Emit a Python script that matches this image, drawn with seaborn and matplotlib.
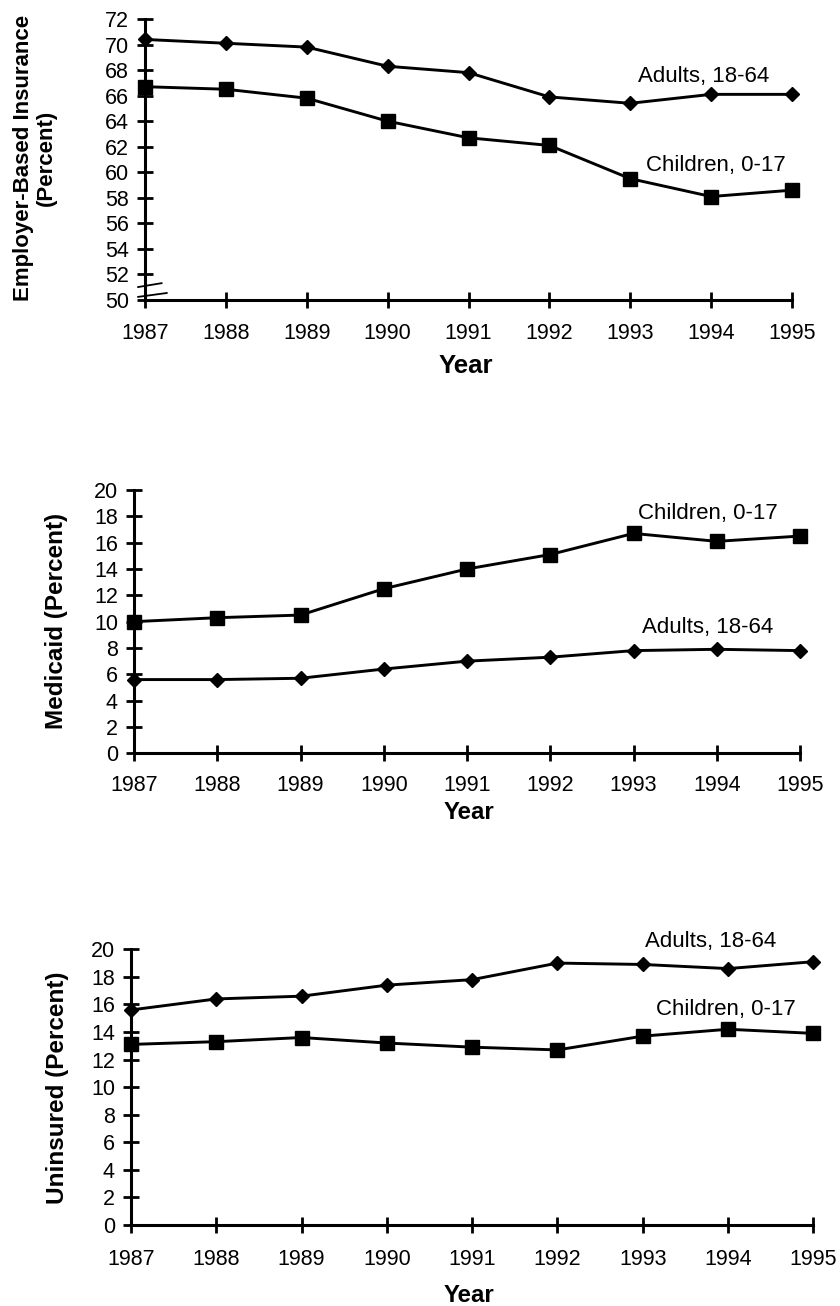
import matplotlib
matplotlib.use("Agg")
import matplotlib.pyplot as plt
import seaborn as sns
import numpy as np

# Years covered by the survey
years = [1987, 1988, 1989, 1990, 1991, 1992, 1993, 1994, 1995]

# Employer-based insurance (percent)
employer_adults = [70.4, 70.1, 69.8, 68.3, 67.8, 65.9, 65.4, 66.1, 66.1]
employer_children = [66.7, 66.5, 65.8, 64.0, 62.7, 62.1, 59.5, 58.1, 58.6]

# Medicaid (percent)
medicaid_adults = [5.6, 5.6, 5.7, 6.4, 7.0, 7.3, 7.8, 7.9, 7.8]
medicaid_children = [10.0, 10.3, 10.5, 12.5, 14.0, 15.1, 16.7, 16.1, 16.5]

# Uninsured (percent)
uninsured_adults = [15.6, 16.4, 16.6, 17.4, 17.8, 19.0, 18.9, 18.6, 19.1]
uninsured_children = [13.1, 13.3, 13.6, 13.2, 12.9, 12.7, 13.7, 14.2, 13.9]

adult_label = "Adults, 18-64"
child_label = "Children, 0-17"

employer_ticks = list(range(50, 73, 2))
percent_ticks = list(range(0, 21, 2))

sns.set_theme(style="ticks")
plt.rcParams["font.family"] = ["Liberation Sans", "DejaVu Sans"]
plt.rcParams["axes.linewidth"] = 2.2
for key in ("text.color", "axes.labelcolor", "xtick.color", "ytick.color",
            "axes.edgecolor", "xtick.labelcolor", "ytick.labelcolor"):
    plt.rcParams[key] = "black"

fig = plt.figure(figsize=(8.4, 13.06), dpi=100)

panels = [
    dict(rect=[145 / 840, 1 - 300 / 1306, 647 / 840, 281 / 1306],
         adults=employer_adults, children=employer_children,
         ylim=(50, 72), yticks=employer_ticks,
         ylabel="Employer-Based Insurance\n(Percent)", ylabel_xy=(-0.170, 0.505), ylabel_size=16,
         xpad=11.0, year_xy=(0.496, -0.235), year_size=18.5,
         adult_txt=(1993.10, 67.09), child_txt=(1993.19, 60.12), axis_break=True),
    dict(rect=[134 / 840, 1 - 753.3 / 1306, 666 / 840, 263.3 / 1306],
         adults=medicaid_adults, children=medicaid_children,
         ylim=(0, 20), yticks=percent_ticks,
         ylabel="Medicaid (Percent)", ylabel_xy=(-0.116, 0.502), ylabel_size=17.5,
         xpad=10.2, year_xy=(0.503, -0.223), year_size=17.3,
         adult_txt=(1993.10, 9.16), child_txt=(1993.05, 17.77), axis_break=False),
    dict(rect=[131 / 840, 1 - 1225 / 1306, 682.3 / 840, 275.7 / 1306],
         adults=uninsured_adults, children=uninsured_children,
         ylim=(0, 20), yticks=percent_ticks,
         ylabel="Uninsured (Percent)", ylabel_xy=(-0.108, 0.497), ylabel_size=17.5,
         xpad=11.5, year_xy=(0.495, -0.254), year_size=17.3,
         adult_txt=(1993.03, 20.2), child_txt=(1993.15, 15.24), axis_break=False),
]

for p in panels:
    ax = fig.add_axes(p["rect"])
    sns.lineplot(x=years, y=p["adults"], ax=ax, color="black", linewidth=2.1,
                 marker="D", markersize=7.2, markeredgecolor="black",
                 markeredgewidth=1, clip_on=False, zorder=4)
    sns.lineplot(x=years, y=p["children"], ax=ax, color="black", linewidth=2.1,
                 marker="s", markersize=10, markeredgecolor="black",
                 markeredgewidth=1, clip_on=False, zorder=4)

    ax.set_xlim(years[0], years[-1])
    ax.set_ylim(*p["ylim"])
    ax.set_xticks(years)
    ax.set_xticklabels([str(y) for y in years])
    ax.set_yticks(p["yticks"])
    ax.set_yticklabels([str(t) for t in p["yticks"]])
    for side in ("top", "right"):
        ax.spines[side].set_visible(False)
    for side in ("left", "bottom"):
        ax.spines[side].set_color("black")
        ax.spines[side].set_linewidth(2.2)
    ax.tick_params(axis="both", direction="inout", length=11.5, width=2,
                   color="black", labelsize=15.5, labelcolor="black")
    ax.tick_params(axis="y", pad=5.8)
    ax.tick_params(axis="x", pad=p["xpad"])
    ax.set_facecolor("white")

    ax.set_xlabel("")
    ax.set_ylabel("")
    ax.text(p["year_xy"][0], p["year_xy"][1], "Year", transform=ax.transAxes,
            ha="center", va="center", fontsize=p["year_size"], fontweight="bold",
            color="black")
    ax.text(p["ylabel_xy"][0], p["ylabel_xy"][1], p["ylabel"], transform=ax.transAxes,
            ha="center", va="center", rotation=90, fontsize=p["ylabel_size"],
            fontweight="bold", multialignment="center", linespacing=1.15,
            color="black")

    ax.text(*p["adult_txt"], adult_label, ha="left", va="baseline", fontsize=16,
            color="black")
    ax.text(*p["child_txt"], child_label, ha="left", va="baseline", fontsize=16,
            color="black")

    if p["axis_break"]:
        # slanted marks showing the truncated value axis
        for y0, y1, x1 in [(0.046, 0.060, 0.026), (0.011, 0.025, 0.034)]:
            ax.plot([-0.011, x1], [y0, y1], transform=ax.transAxes, color="black",
                    linewidth=1.3, clip_on=False, zorder=5)

fig.savefig("out.png", dpi=100, facecolor="white")
